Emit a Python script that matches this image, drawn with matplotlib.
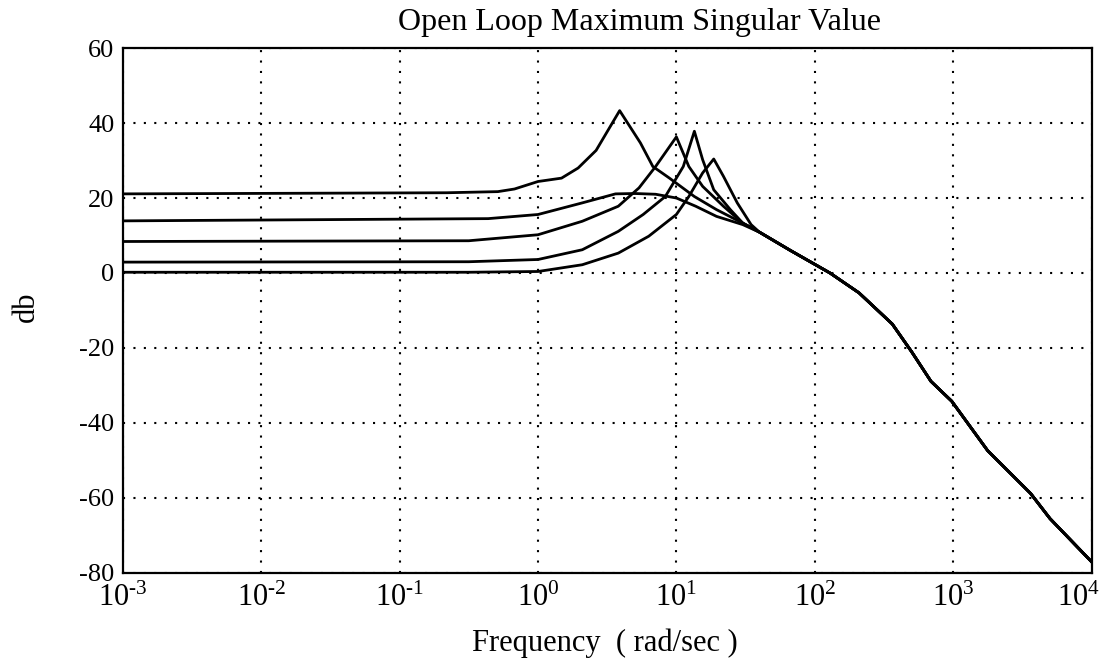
#Importing Libraries

import numpy as np
import matplotlib
matplotlib.use("Agg")
import matplotlib.pyplot as plt
from matplotlib.ticker import FixedLocator, FuncFormatter, NullLocator
from matplotlib.transforms import ScaledTranslation

# Fonts

plt.rcParams["font.family"] = ["Liberation Serif", "DejaVu Serif"]
plt.rcParams["mathtext.fontset"] = "custom"
plt.rcParams["mathtext.rm"] = "Liberation Serif"
plt.rcParams["axes.unicode_minus"] = False

# Data (log10 of frequency in rad/sec, magnitude in db)

tail_logw = [1.60, 1.82, 2.11, 2.32, 2.56, 2.70, 2.84, 2.99, 3.25, 3.56, 3.70, 4.00]
tail_db = [10.9, 6.1, 0.0, -5.3, -13.6, -21.0, -28.9, -34.2, -47.4, -58.8, -65.5, -77.0]

c1_logw = [-3, -0.66, -0.29, -0.17, 0.0, 0.17, 0.29, 0.42, 0.59, 0.74, 0.83, 0.95, 1.13, 1.29, 1.48]
c1_db = [21.1, 21.4, 21.7, 22.4, 24.4, 25.3, 28.0, 32.7, 43.3, 34.7, 28.4, 25.3, 20.4, 16.9, 13.3]

c2_logw = [-3, -0.36, 0.0, 0.32, 0.56, 0.70, 0.85, 1.00, 1.14, 1.29, 1.48]
c2_db = [13.9, 14.5, 15.6, 18.7, 21.1, 21.2, 21.0, 20.0, 17.8, 15.1, 12.9]

c3_logw = [-3, -0.5, 0.0, 0.32, 0.58, 0.73, 0.85, 1.00, 1.09, 1.19, 1.34, 1.48]
c3_db = [8.4, 8.6, 10.2, 13.8, 17.8, 22.7, 28.4, 36.3, 28.4, 23.1, 17.8, 13.3]

c4_logw = [-3, -0.5, 0.0, 0.32, 0.58, 0.76, 0.92, 1.05, 1.13, 1.19, 1.27, 1.39, 1.48]
c4_db = [2.9, 3.0, 3.6, 6.2, 11.1, 15.6, 20.4, 28.4, 37.8, 30.2, 22.2, 16.9, 13.3]

c5_logw = [-3, -0.5, 0.0, 0.32, 0.58, 0.80, 1.00, 1.09, 1.19, 1.27, 1.34, 1.44, 1.54]
c5_db = [0.2, 0.2, 0.4, 2.2, 5.3, 9.8, 15.6, 20.4, 26.7, 30.4, 25.8, 18.7, 12.9]

curves = [(c1_logw, c1_db), (c2_logw, c2_db), (c3_logw, c3_db),
          (c4_logw, c4_db), (c5_logw, c5_db)]

x_exponents = [-3, -2, -1, 0, 1, 2, 3, 4]
y_ticks = [-80, -60, -40, -20, 0, 20, 40, 60]

# ==========================================================
# Plot
# ==========================================================

fig = plt.figure(figsize=(11.07, 6.67), dpi=100)
ax = fig.add_axes([0.111, 0.141, 0.875, 0.787])

for logw, db in curves:
    w = 10.0 ** np.array(logw + tail_logw)
    ax.semilogx(w, db + tail_db, color="black", lw=2.0)

ax.set_xlim(10.0 ** x_exponents[0], 10.0 ** x_exponents[-1])
ax.set_ylim(y_ticks[0], y_ticks[-1])

ax.xaxis.set_major_locator(FixedLocator([10.0 ** e for e in x_exponents]))
ax.xaxis.set_minor_locator(NullLocator())
ax.xaxis.set_major_formatter(FuncFormatter(
    lambda v, pos: r"$\mathregular{10^{\text{%d}}}$" % int(round(np.log10(v)))))
ax.set_yticks(y_ticks)

ax.tick_params(axis="both", length=0, colors="black")
ax.tick_params(axis="x", labelsize=22, pad=8)
ax.tick_params(axis="y", labelsize=19, pad=6)

ax.grid(True, which="major", color="black", linestyle=(0, (1, 4)), lw=1.5)

for s in ax.spines.values():
    s.set_linewidth(1.6)
    s.set_color("black")

fig.text(0.578, 0.945, "Open Loop Maximum Singular Value", fontsize=23,
         ha="center", va="bottom")
fig.text(0.546, 0.035, "Frequency  ( rad/sec )", fontsize=22,
         ha="center", va="center")
fig.text(0.024, 0.54, "db", fontsize=22, rotation=90,
         ha="center", va="center")

# keep the last x label inside the figure
fig.canvas.draw()
last = ax.get_xticklabels()[-1]
last.set_transform(last.get_transform() + ScaledTranslation(-0.13, 0, fig.dpi_scale_trans))

fig.savefig("out.png", dpi=100)
